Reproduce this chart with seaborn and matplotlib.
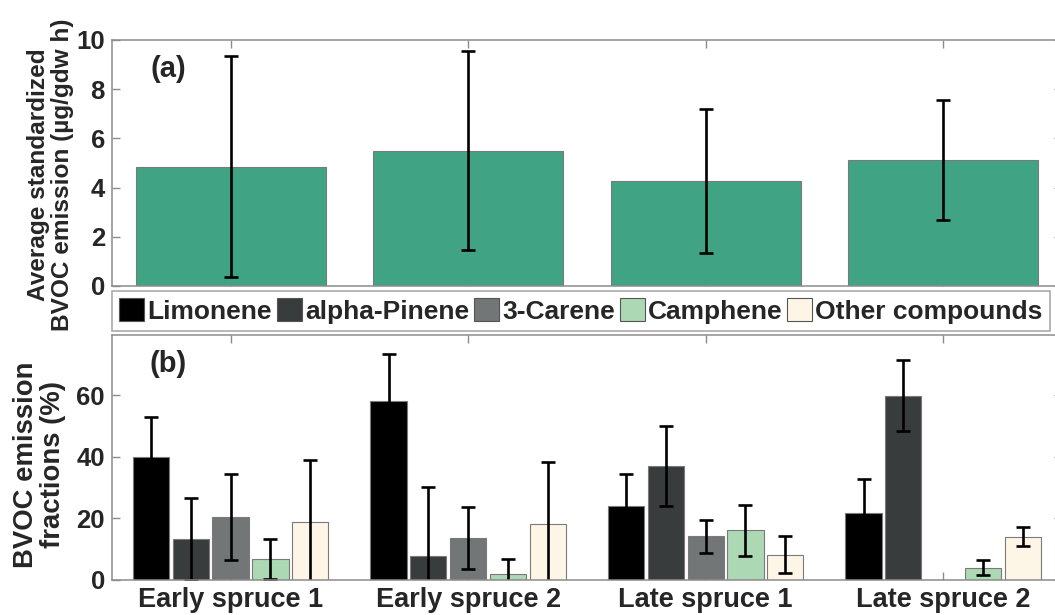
import pandas as pd
import seaborn as sns
import matplotlib.pyplot as plt
from matplotlib.patches import Patch

# data
samples = ['Early spruce 1', 'Early spruce 2', 'Late spruce 1', 'Late spruce 2']
total_mean = [4.85, 5.50, 4.27, 5.13]
total_err = [4.50, 4.05, 2.93, 2.45]

compounds = ['Limonene', 'alpha-Pinene', '3-Carene', 'Camphene', 'Other compounds']
limonene = [40.0, 58.0, 24.1, 21.6]
limonene_err = [13.0, 15.5, 10.2, 11.2]
apinene = [13.4, 7.8, 37.0, 59.9]
apinene_err = [13.3, 22.4, 13.0, 11.6]
carene = [20.5, 13.6, 14.2, 0.0]
carene_err = [13.9, 10.2, 5.3, float('nan')]
camphene = [6.8, 1.9, 16.1, 4.0]
camphene_err = [6.5, 5.0, 8.4, 2.5]
other = [18.8, 18.1, 8.2, 14.1]
other_err = [20.3, 20.2, 6.0, 3.1]

colors = ['#000000', '#393c3d', '#737677', '#acd8b4', '#fdf6e6']
green = '#3fa384'
spine_gray = '#8c8c8c'

sns.set_style('ticks')
plt.rcParams['font.family'] = ['Liberation Sans', 'DejaVu Sans']
plt.rcParams['font.weight'] = 'bold'
plt.rcParams['axes.labelweight'] = 'bold'

df_a = pd.DataFrame({'sample': samples, 'emission': total_mean})
vals = [limonene, apinene, carene, camphene, other]
errs = [limonene_err, apinene_err, carene_err, camphene_err, other_err]
rows = []
for c, v in zip(compounds, vals):
    for s, x in zip(samples, v):
        rows.append({'sample': s, 'compound': c, 'fraction': x})
df_b = pd.DataFrame(rows)

fig = plt.figure(figsize=(10.55, 6.15), dpi=100)
ax1 = fig.add_axes([0.106, 0.535, 0.9006, 0.400])
ax2 = fig.add_axes([0.106, 0.057, 0.9006, 0.398])

# (a) total emission
sns.barplot(data=df_a, x='sample', y='emission', color=green, width=0.8,
            edgecolor='#7a7a7a', linewidth=0.8, saturation=1, errorbar=None, ax=ax1)
xs = [p.get_x() + p.get_width() / 2 for p in ax1.patches]
hs = [p.get_height() for p in ax1.patches]
ax1.errorbar(xs, hs, yerr=total_err, fmt='none', ecolor='black',
             elinewidth=1.9, capsize=4.8, capthick=1.9)
ax1.set_ylim(0, 10)
ax1.set_yticks([0, 2, 4, 6, 8, 10])
ax1.set_xlabel('')
ax1.set_xticklabels([])
ax1.set_ylabel('Average standardized\nBVOC emission (µg/gdw h)', fontsize=17.6,
               linespacing=1.05)
ax1.yaxis.set_label_coords(-0.040, 0.451)
ax1.text(0.041, 0.94, '(a)', transform=ax1.transAxes, fontsize=21,
         fontweight='bold', va='top', ha='left')

# (b) emission fractions
sns.barplot(data=df_b, x='sample', y='fraction', hue='compound',
            hue_order=compounds, palette=colors, width=0.838, gap=0.09,
            edgecolor='#7a7a7a', linewidth=0.8, saturation=1, errorbar=None,
            legend=False, ax=ax2)
for cont, e in zip(ax2.containers, errs):
    bx = [b.get_x() + b.get_width() / 2 for b in cont]
    by = [b.get_height() for b in cont]
    ax2.errorbar(bx, by, yerr=e, fmt='none', ecolor='black',
                 elinewidth=1.9, capsize=4.8, capthick=1.9)
ax2.set_ylim(0, 79.5)
ax2.set_yticks([0, 20, 40, 60])
ax2.set_xlabel('')
ax2.set_ylabel('BVOC emission\nfractions (%)', fontsize=19.8, linespacing=1.05)
ax2.yaxis.set_label_coords(-0.048, 0.47)
ax2.text(0.040, 0.94, '(b)', transform=ax2.transAxes, fontsize=21,
         fontweight='bold', va='top', ha='left')

for ax in (ax1, ax2):
    ax.set_xlim(-0.5, 3.5)
    for sp in ax.spines.values():
        sp.set_visible(True)
        sp.set_color(spine_gray)
        sp.set_linewidth(1.1)
    ax.tick_params(direction='in', length=6, width=1, color=spine_gray,
                   top=True, right=True, labelsize=18.5, pad=5)
    ax.tick_params(axis='x', labelsize=19.5, pad=5)
    for lab in ax.get_xticklabels() + ax.get_yticklabels():
        lab.set_fontweight('bold')

handles = [Patch(facecolor=c, edgecolor='#555555', linewidth=0.8) for c in colors]
leg = fig.legend(handles, compounds, loc='upper left',
                 bbox_to_anchor=(0.106, 1 - 291 / 615), ncol=5, fontsize=19,
                 frameon=True, fancybox=False, edgecolor=spine_gray,
                 handlelength=0.95, handleheight=0.95, handletextpad=0.12,
                 columnspacing=0.18, borderpad=0.28, borderaxespad=0)
leg.get_frame().set_linewidth(1.1)
for t in leg.get_texts():
    t.set_fontweight('bold')

plt.savefig('out.png', dpi=100)
